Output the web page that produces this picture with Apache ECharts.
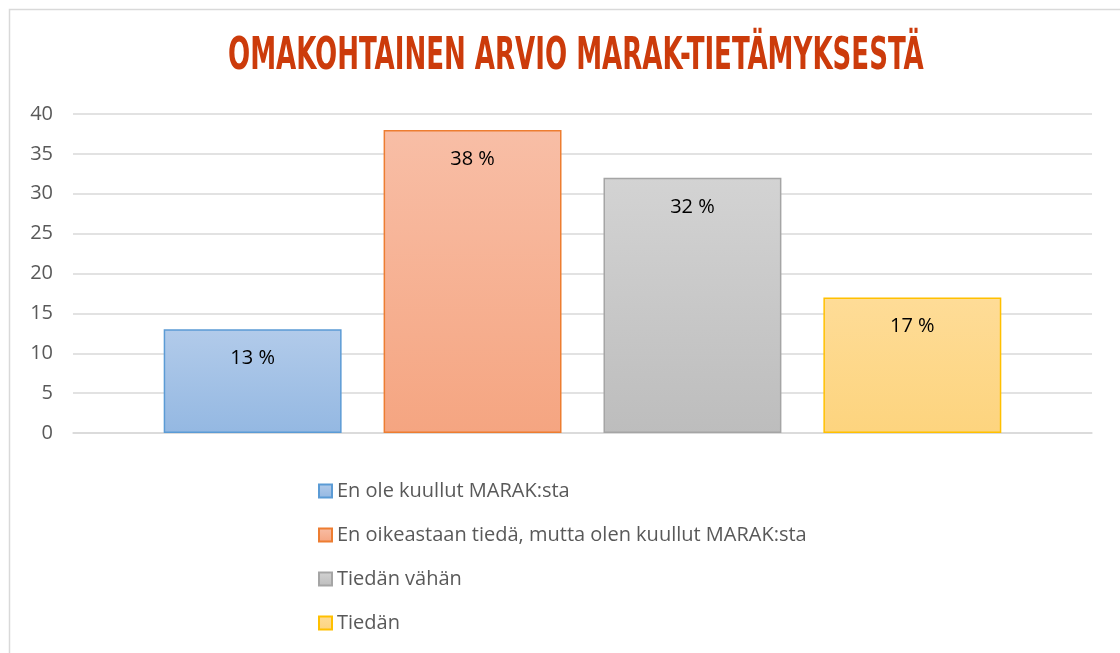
<!DOCTYPE html>
<html>
<head>
<meta charset="utf-8">
<script src="https://cdn.jsdelivr.net/npm/echarts@6/dist/echarts.min.js"></script>
<style>html,body{margin:0;padding:0;background:#fff}#c{width:1120px;height:653px}</style>
</head>
<body>
<div id="c"></div>
<script>
const titleText = 'OMAKOHTAINEN ARVIO MARAK-TIETÄMYKSESTÄ';
const categories = [''];
const seriesNames = ['En ole kuullut MARAK:sta', 'En oikeastaan tiedä, mutta olen kuullut MARAK:sta', 'Tiedän vähän', 'Tiedän'];
const seriesValues = [13, 38, 32, 17];
const valueLabels = ['13 %', '38 %', '32 %', '17 %'];
const yTicks = [0, 5, 10, 15, 20, 25, 30, 35, 40];

const fills = [['#b2cbea', '#94b8e2'], ['#f8bea6', '#f5a581'], ['#d3d3d3', '#bdbdbd'], ['#fedc97', '#fdd47e']];
const borders = ['#5b9bd5', '#ed7d31', '#a5a5a5', '#ffc000'];

const chart = echarts.init(document.getElementById('c'), null, {renderer: 'canvas'});
const series = seriesNames.map((name, i) => ({
  name: name,
  type: 'bar',
  data: [seriesValues[i]],
  barGap: '23.6%',
  barCategoryGap: '17.8%',
  itemStyle: {
    color: new echarts.graphic.LinearGradient(0, 0, 0, 1, [
      {offset: 0, color: fills[i][0]}, {offset: 1, color: fills[i][1]}
    ]),
    borderColor: borders[i],
    borderWidth: 1.5
  },
  label: {
    show: true,
    position: 'insideTop',
    distance: 19,
    formatter: () => valueLabels[i],
    color: '#000',
    fontSize: 20,
    fontFamily: 'Open Sans'
  },
  emphasis: {disabled: true}
}));

chart.setOption({
  animation: false,
  backgroundColor: '#fff',
  graphic: [
    {type: 'rect', shape: {x: 9.5, y: 9.5, width: 1300, height: 800}, style: {fill: 'none', stroke: '#d9d9d9', lineWidth: 1.5}, silent: true, z: -1},
    {type: 'text', x: 228, y: 36, scaleX: 0.658, style: {text: titleText, font: 'bold 44px "DejaVu Sans Condensed", "DejaVu Sans"', fill: '#cc3b0b', verticalAlign: 'top'}}
  ],
  grid: {left: 73, right: 28, top: 114, bottom: 220, containLabel: false},
  legend: {
    orient: 'vertical',
    left: 313,
    top: 476,
    itemGap: 24,
    itemWidth: 13,
    itemHeight: 13,
    icon: 'rect',
    textStyle: {color: '#595959', fontSize: 20, fontFamily: 'Open Sans'},
    data: seriesNames
  },
  xAxis: {
    type: 'category',
    data: categories,
    axisLine: {lineStyle: {color: '#d9d9d9', width: 1.5}},
    axisTick: {show: false},
    axisLabel: {show: false}
  },
  yAxis: {
    type: 'value',
    min: yTicks[0],
    max: yTicks[yTicks.length - 1],
    interval: 5,
    axisLine: {show: false},
    axisTick: {show: false},
    axisLabel: {color: '#595959', fontSize: 20, fontFamily: 'Open Sans', margin: 20},
    splitLine: {lineStyle: {color: '#d9d9d9', width: 1.5}}
  },
  series: series
});
</script>
</body>
</html>
